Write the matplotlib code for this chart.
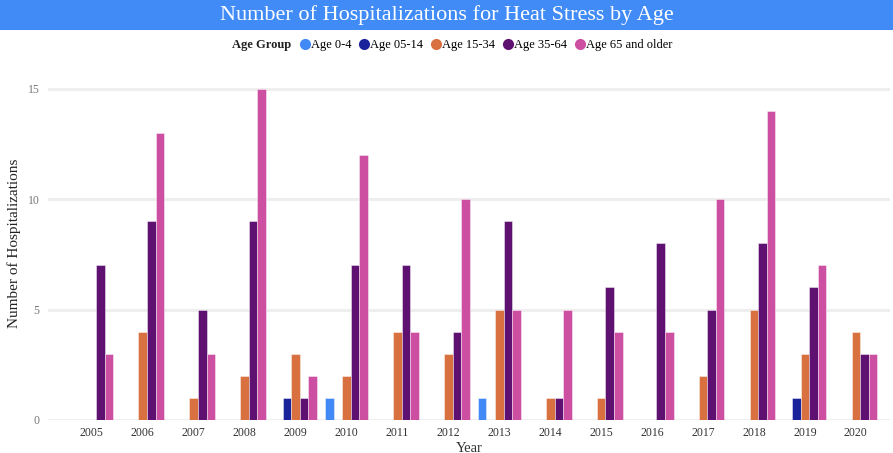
import matplotlib
matplotlib.use('Agg')
import matplotlib.pyplot as plt
from matplotlib.lines import Line2D
from matplotlib.patches import Rectangle
import numpy as np

matplotlib.rcParams.update({'font.family': ['Liberation Serif', 'DejaVu Serif']})

years = [str(y) for y in range(2005, 2021)]
groups = ['Age 0-4', 'Age 05-14', 'Age 15-34', 'Age 35-64', 'Age 65 and older']
age_0_4 = [0, 0, 0, 0, 0, 1, 0, 0, 1, 0, 0, 0, 0, 0, 0, 0]
age_05_14 = [0, 0, 0, 0, 1, 0, 0, 0, 0, 0, 0, 0, 0, 0, 1, 0]
age_15_34 = [0, 4, 1, 2, 3, 2, 4, 3, 5, 1, 1, 0, 2, 5, 3, 4]
age_35_64 = [7, 9, 5, 9, 1, 7, 7, 4, 9, 1, 6, 8, 5, 8, 6, 3]
age_65_up = [3, 13, 3, 15, 2, 12, 4, 10, 5, 5, 4, 4, 10, 14, 7, 3]
series = [age_0_4, age_05_14, age_15_34, age_35_64, age_65_up]
colors = ['#4189f6', '#1b239b', '#d9703f', '#5f1171', '#cd4fa1']

fig = plt.figure(figsize=(8.93, 4.53), dpi=100)
ax = fig.add_axes([48 / 893, 33 / 453, 842 / 893, 349 / 453])

x = np.arange(len(years))
slot = 0.168
for i, (vals, c) in enumerate(zip(series, colors)):
    ax.bar(x + (i - 2) * slot, vals, width=slot, color=c,
           edgecolor=(1, 1, 1, 0.5), linewidth=0.6, zorder=3)

ax.set_xlim(-0.86, 15.67)
ax.set_ylim(0, 15.8)
ax.set_xticks(x)
ax.set_xticklabels(years, fontsize=8.5, color='#333333')
ax.set_yticks([0, 5, 10, 15])
ax.set_yticklabels(['0', '5', '10', '15'], fontsize=8.5, color='#777777')
ax.tick_params(length=0, pad=6)
ax.tick_params(axis='x', pad=5)
ax.grid(axis='y', color='#eeeeee', linewidth=2.2, zorder=0)
for s in ax.spines.values():
    s.set_visible(False)
ax.set_xlabel('Year', fontsize=10.5, color='#333333', labelpad=2)
fig.text(14 / 893, 1 - 243 / 453, 'Number of Hospitalizations', rotation=90,
         ha='center', va='center', fontsize=11, color='#222222')

# title banner
fig.patches.append(Rectangle((0, 1 - 30 / 453), 1, 30 / 453, transform=fig.transFigure,
                             facecolor='#418bf7', edgecolor='none', zorder=0))
fig.text(0.5, 1 - 15 / 453, 'Number of Hospitalizations for Heat Stress by Age',
         ha='center', va='center', color='white', fontsize=16)

# legend
fig.text(262 / 893, 1 - 45 / 453, 'Age Group', ha='center', va='center',
         fontsize=9, fontweight='bold', color='#222222')
handles = [Line2D([], [], marker='o', linestyle='none', color=c, markersize=7)
           for c in colors]
fig.legend(handles, groups, loc='center left', bbox_to_anchor=(300 / 893, 1 - 45 / 453),
           ncol=5, frameon=False, fontsize=9, handlelength=0.8, handletextpad=0.1,
           columnspacing=0.6, borderaxespad=0, borderpad=0)

fig.savefig('out.png', dpi=100)
